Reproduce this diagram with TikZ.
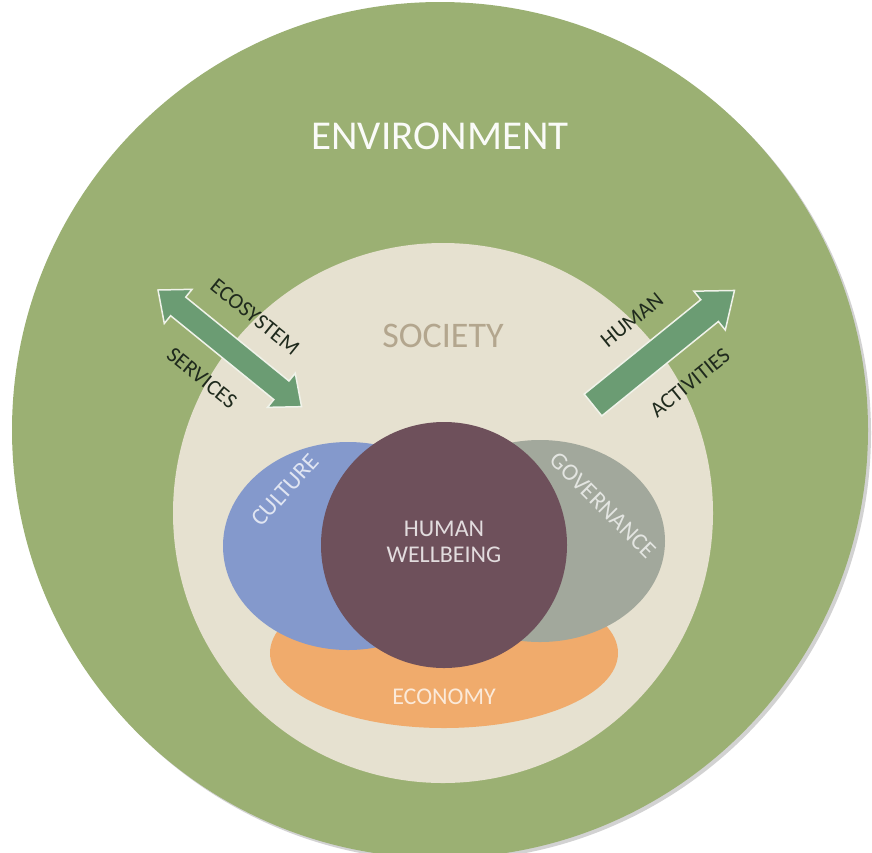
\documentclass[tikz,border=0pt]{standalone}
\usepackage{fontspec}
\setmainfont{Carlito}

\definecolor{envgreen}{HTML}{9BB073}
\definecolor{socbeige}{HTML}{E6E1D0}
\definecolor{cultblue}{HTML}{8499CC}
\definecolor{govgrey}{HTML}{A2A89C}
\definecolor{econorange}{HTML}{F0AB6C}
\definecolor{wellplum}{HTML}{6E505B}
\definecolor{arrowgreen}{HTML}{6B9C73}
\definecolor{labeldark}{HTML}{1F2A1D}
\definecolor{soctext}{HTML}{B3A68E}

\tikzset{
  biglabel/.style={font=\fontsize{41}{41}\selectfont, text=white!95!envgreen},
  soclabel/.style={font=\fontsize{36}{36}\selectfont, text=soctext},
  arrowlabel/.style={font=\fontsize{22}{22}\selectfont, text=labeldark},
  setlabel/.style={font=\fontsize{24}{24}\selectfont},
  flowarrow/.style={fill=arrowgreen, draw=white!85!envgreen, line width=1.5pt, line join=miter}
}

\begin{document}
\begin{tikzpicture}[x=1pt, y=-1pt]
   \useasboundingbox (0,0) rectangle (872,852);
   % outer and inner circles
   \fill[gray!35] (443,433) circle (428);
   \fill[envgreen] (440,430) circle (428);
   \fill[socbeige] (443,513) circle (270);

   % flows between society and environment
   \begin{scope}[shift={(158,290)}, rotate=-39.1]
     \draw[flowarrow] (0,0) -- (26,22) -- (26,12) -- (159,12) -- (159,22) -- (185,0)
        -- (159,-22) -- (159,-12) -- (26,-12) -- (26,-22) -- cycle;
   \end{scope}
   \begin{scope}[shift={(593,405)}, rotate=39]
     \draw[flowarrow] (0,14) -- (150,14) -- (150,25) -- (182,0) -- (150,-25) -- (150,-14)
        -- (0,-14) -- cycle;
   \end{scope}

   % overlapping sets
   \fill[econorange] (444,653) ellipse [x radius=174, y radius=75];
   \fill[cultblue] (348,546) ellipse [x radius=125, y radius=104];
   \fill[govgrey] (540,541) ellipse [x radius=125, y radius=101];
   \fill[wellplum] (444,545) circle (123);

   % labels
   \node[biglabel] (environment) at (440,136) {ENVIRONMENT};
   \node[soclabel] (society) at (443,336) {SOCIETY};
   \node[arrowlabel, rotate=-39] (ecosystem) at (255,317) {ECOSYSTEM};
   \node[arrowlabel, rotate=-39] (services) at (202,378) {SERVICES};
   \node[arrowlabel, rotate=39] (human) at (632,320) {HUMAN};
   \node[arrowlabel, rotate=39] (activities) at (690,383) {ACTIVITIES};
   \node[setlabel, text=cultblue!25!white, rotate=48] (culture) at (285,490) {CULTURE};
   \node[setlabel, text=govgrey!30!white, rotate=-45] (governance) at (603,505) {GOVERNANCE};
   \node[setlabel, text=wellplum!20!white, align=center] (wellbeing) at (444,542)
        {HUMAN\\[2pt]WELLBEING};
   \node[setlabel, text=econorange!25!white] (economy) at (444,697) {ECONOMY};
\end{tikzpicture}
\end{document}
